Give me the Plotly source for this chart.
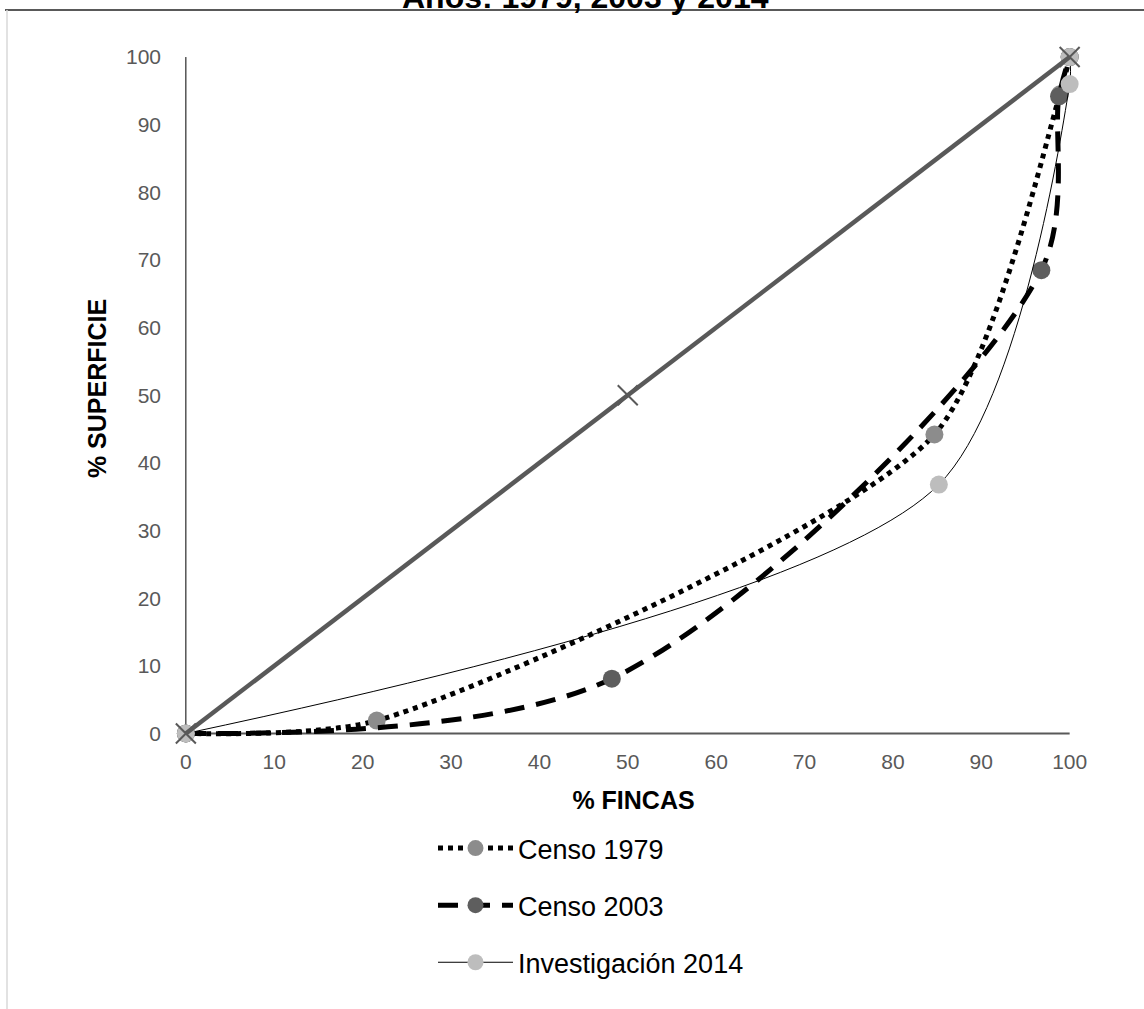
import plotly.graph_objects as go

# ---------------- data ----------------
eq_x = [0, 50, 100]
eq_y = [0, 50, 100]

c1979_x = [0, 21.6, 84.7, 98.9, 100]
c1979_y = [0, 1.9, 44.2, 94.5, 100]

c2003_x = [0, 48.2, 96.8, 98.8, 100]
c2003_y = [0, 8.1, 68.5, 94.2, 100]

i2014_x = [0, 85.2, 100, 100]
i2014_y = [0, 36.8, 96.0, 100]

tick_vals = [0, 10, 20, 30, 40, 50, 60, 70, 80, 90, 100]
tick_text = [str(v) for v in tick_vals]

title_text = "Años: 1979, 2003 y 2014"
x_title = "% FINCAS"
y_title = "% SUPERFICIE"
names = ["Censo 1979", "Censo 2003", "Investigación 2014"]

# ---------------- layout geometry ----------------
W, H = 1144, 1009
ML, MR, MT, MB = 162, 39, 30, 262
PW, PH = W - ML - MR, H - MT - MB
X_RANGE = [-2.7, 104]
Y_RANGE = [-2, 104]


def px_x(p):
    return (p - ML) / PW


def px_y(p):
    return (H - MB - p) / PH


FONT = "Liberation Sans, Arial, sans-serif"

fig = go.Figure()

fig.add_trace(go.Scatter(
    x=c1979_x, y=c1979_y, name=names[0], legendgroup="a",
    mode="lines+markers",
    line=dict(color="#000000", width=5, dash="5px,5px", shape="spline", smoothing=0.7),
    marker=dict(size=18, color="#8c8c8c"), cliponaxis=False))

fig.add_trace(go.Scatter(
    x=c2003_x, y=c2003_y, name=names[1], legendgroup="b",
    mode="lines+markers",
    line=dict(color="#000000", width=5, dash="20px,12px", shape="spline", smoothing=0.9),
    marker=dict(size=18, color="#5e5e5e"), cliponaxis=False))

fig.add_trace(go.Scatter(
    x=i2014_x, y=i2014_y, name=names[2], legendgroup="c",
    mode="lines+markers",
    line=dict(color="#000000", width=1, shape="spline", smoothing=0.8),
    marker=dict(size=18, color="#bdbdbd"), cliponaxis=False))

fig.add_trace(go.Scatter(
    x=eq_x, y=eq_y, showlegend=False,
    mode="lines+markers", line=dict(color="#595959", width=4.5),
    marker=dict(symbol="x-thin", size=20, line=dict(color="#595959", width=2)),
    cliponaxis=False))

fig.update_layout(
    width=W, height=H,
    margin=dict(l=ML, r=MR, t=MT, b=MB),
    paper_bgcolor="white", plot_bgcolor="white",
    font=dict(family=FONT, color="#000000"),
    showlegend=True,
    legend=dict(
        orientation="v", x=px_x(433), y=px_y(824), xanchor="left", yanchor="top",
        font=dict(size=27, family=FONT, color="#000000"),
        itemwidth=75, tracegroupgap=19, traceorder="grouped",
        bgcolor="rgba(0,0,0,0)"),
    xaxis=dict(
        range=X_RANGE, showgrid=False, zeroline=False, showline=False,
        tickmode="array", tickvals=tick_vals, ticktext=tick_text,
        tickfont=dict(size=21, color="#595959", family=FONT), ticks="",
        title=dict(text="<b>" + x_title + "</b>", font=dict(size=25, family=FONT, color="#000000"), standoff=19)),
    yaxis=dict(
        range=Y_RANGE, showgrid=False, zeroline=False, showline=False,
        tickmode="array", tickvals=tick_vals, ticktext=tick_text,
        tickfont=dict(size=21, color="#595959", family=FONT), ticks="",
        title=dict(text="<b>" + y_title + "</b>", font=dict(size=25, family=FONT, color="#000000"), standoff=12)),
    shapes=[
        dict(type="line", xref="x", yref="y", x0=0, y0=0, x1=100, y1=0,
             line=dict(color="#595959", width=2), layer="below"),
        dict(type="line", xref="x", yref="y", x0=0, y0=0, x1=0, y1=100,
             line=dict(color="#000000", width=1), layer="below"),
        dict(type="line", xref="paper", yref="paper", x0=px_x(5), y0=px_y(10), x1=px_x(1144), y1=px_y(10),
             line=dict(color="#595959", width=2)),
        dict(type="line", xref="paper", yref="paper", x0=px_x(7), y0=px_y(10), x1=px_x(7), y1=px_y(1009),
             line=dict(color="#d9d9d9", width=1.5)),
    ],
    annotations=[
        dict(text="<b>" + title_text + "</b>", xref="paper", yref="paper",
             x=px_x(585), y=px_y(17), xanchor="center", yanchor="bottom", showarrow=False,
             font=dict(size=32, family=FONT, color="#000000")),
    ],
)

fig.write_html(
    "out.html",
    config={"displayModeBar": False},
    post_script="document.body.style.margin='0';document.body.style.padding='0';document.body.style.overflow='hidden';",
)
